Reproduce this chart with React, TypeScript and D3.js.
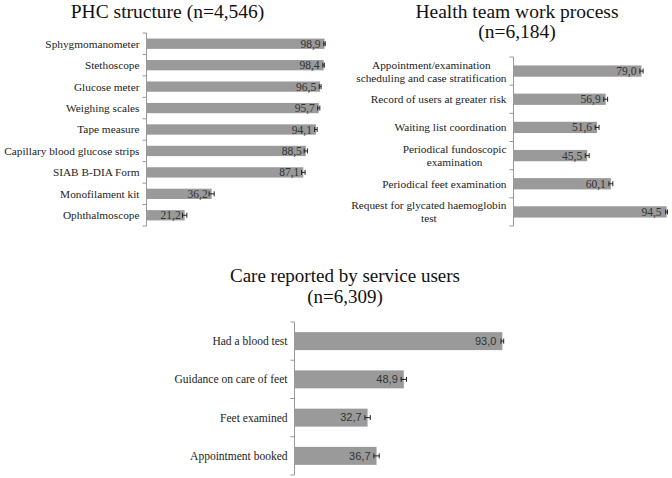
import React from "react";
import * as d3 from "d3";

// Panel 1: PHC structure
const phcCategories = [
  "Sphygmomanometer",
  "Stethoscope",
  "Glucose meter",
  "Weighing scales",
  "Tape measure",
  "Capillary blood glucose strips",
  "SIAB B-DIA Form",
  "Monofilament kit",
  "Ophthalmoscope",
];
const phcValues = [98.9, 98.4, 96.5, 95.7, 94.1, 88.5, 87.1, 36.2, 21.2];
const phcErrors = [0.4, 0.4, 0.5, 0.6, 0.7, 0.9, 1.0, 1.4, 1.2];

// Panel 2: Health team work process
const teamCategories = [
  ["Appointment/examination", "scheduling and case stratification"],
  ["Record of users at greater risk"],
  ["Waiting list coordination"],
  ["Periodical fundoscopic", "examination"],
  ["Periodical feet examination"],
  ["Request for glycated haemoglobin", "test"],
];
const teamValues = [79.0, 56.9, 51.6, 45.5, 60.1, 94.5];
const teamErrors = [1.0, 1.2, 1.2, 1.2, 1.2, 0.6];

// Panel 3: Care reported by service users
const userCategories = [
  "Had a blood test",
  "Guidance on care of feet",
  "Feet examined",
  "Appointment booked",
];
const userValues = [93.0, 48.9, 32.7, 36.7];
const userErrors = [0.6, 1.2, 1.2, 1.2];

const fmt = (v: number) => v.toFixed(1).replace(".", ",");
const SERIF = "'Liberation Serif', 'Times New Roman', serif";
const SANS = "'Liberation Sans', Arial, sans-serif";

let ctx: CanvasRenderingContext2D | null = null;
function measure(text: string, size: number, family: string) {
  if (!ctx) {
    const c = document.createElement("canvas");
    ctx = c.getContext("2d");
  }
  if (!ctx) return text.length * size * 0.45;
  ctx.font = `${size}px ${family}`;
  return ctx.measureText(text).width;
}

type PanelProps = {
  title: string[];
  titleX: number;
  titleY: number[];
  titleSize: number;
  labels: string[][];
  values: number[];
  errors: number[];
  x0: number;
  x100: number;
  y0: number;
  y1: number;
  padInner: number;
  labelSize: number;
  labelLineH: number;
  valueFont: string;
  valueSize: number;
  valueGap: number;
};

function Panel(p: PanelProps) {
  const ids = p.labels.map((_, i) => String(i));
  const y = d3
    .scaleBand<string>()
    .domain(ids)
    .range([p.y0, p.y1])
    .paddingInner(p.padInner)
    .paddingOuter(p.padInner / 2);
  const x = d3.scaleLinear().domain([0, 100]).range([p.x0, p.x100]);
  const step = y.step();
  const bounds = d3.range(ids.length + 1).map((i) => p.y0 + i * step);
  const labelRight = p.x0 - 7;
  return (
    <g>
      {p.title.map((t, i) => (
        <text
          key={i}
          x={p.titleX}
          y={p.titleY[i]}
          textAnchor="middle"
          fontFamily={SERIF}
          fontSize={p.titleSize}
          fill="#111"
        >
          {t}
        </text>
      ))}
      {ids.map((id, i) => {
        const by = y(id)!;
        const bh = y.bandwidth();
        const cy = by + bh / 2;
        const xe = x(p.values[i]);
        const xl = x(p.values[i] - p.errors[i]);
        const xr = x(p.values[i] + p.errors[i]);
        const lines = p.labels[i];
        const blockW = Math.max(...lines.map((l) => measure(l, p.labelSize, SERIF)));
        const cx = labelRight - blockW / 2;
        return (
          <g key={id}>
            <rect x={p.x0} y={by} width={xe - p.x0} height={bh} fill="#9a9a9a" />
            <line x1={xl} x2={xr} y1={cy} y2={cy} stroke="#222" strokeWidth={1} />
            <line x1={xl} x2={xl} y1={cy - 2.5} y2={cy + 2.5} stroke="#222" strokeWidth={1} />
            <line x1={xr} x2={xr} y1={cy - 2.5} y2={cy + 2.5} stroke="#222" strokeWidth={1} />
            <text
              x={xe - p.valueGap}
              y={cy}
              dy="0.35em"
              textAnchor="end"
              fontFamily={p.valueFont}
              fontSize={p.valueSize}
              fill="#333"
            >
              {fmt(p.values[i])}
            </text>
            {lines.map((ln, j) => (
              <text
                key={j}
                x={lines.length > 1 ? cx : labelRight}
                y={cy + (j - (lines.length - 1) / 2) * p.labelLineH}
                dy="0.35em"
                textAnchor={lines.length > 1 ? "middle" : "end"}
                fontFamily={SERIF}
                fontSize={p.labelSize}
                fill="#222"
              >
                {ln}
              </text>
            ))}
          </g>
        );
      })}
      <line x1={p.x0} x2={p.x0} y1={p.y0} y2={p.y1} stroke="#999" strokeWidth={1} />
      {bounds.map((b, i) => (
        <line key={i} x1={p.x0 - 4} x2={p.x0} y1={b} y2={b} stroke="#999" strokeWidth={1} />
      ))}
    </g>
  );
}

export default function App() {
  return (
    <svg
      width={672}
      height={478}
      style={{ position: "absolute", left: 0, top: 0, background: "#fff" }}
    >
      <rect width={672} height={478} fill="#fff" />
      <Panel
        title={["PHC structure (n=4,546)"]}
        titleX={167.5}
        titleY={[17.5]}
        titleSize={19.5}
        labels={phcCategories.map((c) => [c])}
        values={phcValues}
        errors={phcErrors}
        x0={146.5}
        x100={326.5}
        y0={33}
        y1={226}
        padInner={0.52}
        labelSize={11.3}
        labelLineH={13}
        valueFont={SERIF}
        valueSize={11.5}
        valueGap={4}
      />
      <Panel
        title={["Health team work process", "(n=6,184)"]}
        titleX={517}
        titleY={[17.5, 37.5]}
        titleSize={19.5}
        labels={teamCategories}
        values={teamValues}
        errors={teamErrors}
        x0={513.5}
        x100={675.5}
        y0={57}
        y1={226}
        padInner={0.6}
        labelSize={11.3}
        labelLineH={13}
        valueFont={SERIF}
        valueSize={11.5}
        valueGap={5}
      />
      <Panel
        title={["Care reported by service users", "(n=6,309)"]}
        titleX={345}
        titleY={[282, 303]}
        titleSize={19}
        labels={userCategories.map((c) => [c])}
        values={userValues}
        errors={userErrors}
        x0={294.5}
        x100={518}
        y0={322}
        y1={475}
        padInner={0.53}
        labelSize={11.5}
        labelLineH={13}
        valueFont={SANS}
        valueSize={11}
        valueGap={6}
      />
    </svg>
  );
}
